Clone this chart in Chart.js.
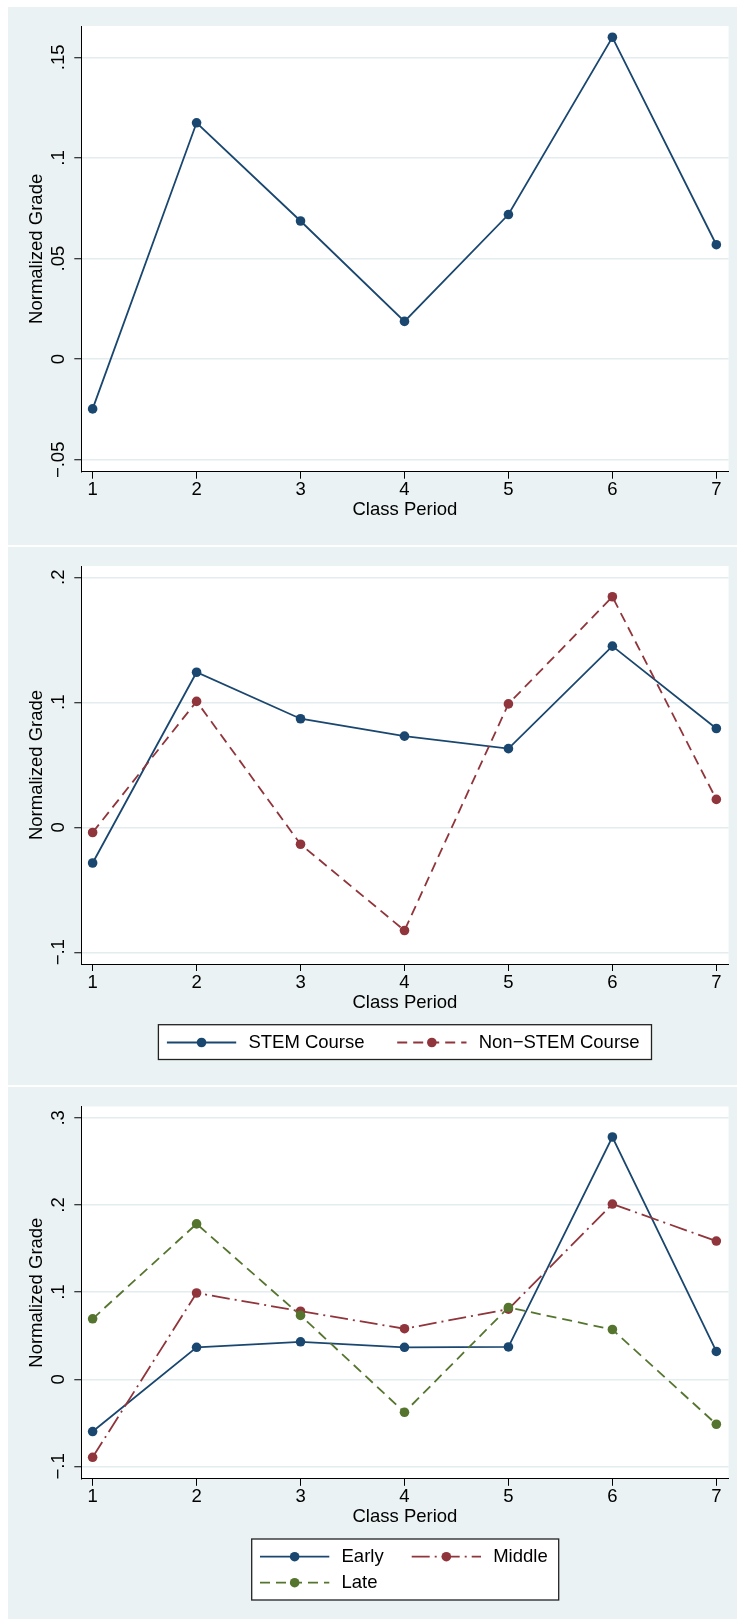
<!DOCTYPE html>
<html>
<head>
<meta charset="utf-8">
<title>Normalized Grade by Class Period</title>
<script src="https://cdn.jsdelivr.net/npm/chart.js@4.4.1/dist/chart.umd.min.js"></script>
<style>
  body { margin: 0; background: #fff; width: 737px; height: 1619px; position: relative; }
  .panel { position: absolute; left: 8px; width: 729px; background: #EAF2F3; }
  .panel canvas { display: block; }
</style>
</head>
<body>
<div class="panel" style="top:7px;height:538px"><canvas id="chart1" width="729" height="538"></canvas></div>
<div class="panel" style="top:547px;height:538px"><canvas id="chart2" width="729" height="538"></canvas></div>
<div class="panel" style="top:1087px;height:532px"><canvas id="chart3" width="729" height="532"></canvas></div>
<script>
// DATA
var periods = [1, 2, 3, 4, 5, 6, 7];

var allGrade = [-0.0247, 0.1175, 0.0687, 0.0188, 0.0719, 0.1600, 0.0569];

var stemGrade = [-0.0286, 0.1240, 0.0868, 0.0729, 0.0629, 0.1449, 0.0790];
var nonStemGrade = [-0.0042, 0.1007, -0.0136, -0.0826, 0.0987, 0.1844, 0.0223];

var earlyGrade = [-0.0600, 0.0367, 0.0430, 0.0367, 0.0371, 0.2780, 0.0319];
var middleGrade = [-0.0895, 0.0990, 0.0781, 0.0580, 0.0805, 0.2011, 0.1586];
var lateGrade = [0.0694, 0.1783, 0.0733, -0.0379, 0.0824, 0.0571, -0.0516];

var yTicks1 = [-0.05, 0, 0.05, 0.1, 0.15];
var yTicks2 = [-0.1, 0, 0.1, 0.2];
var yTicks3 = [-0.1, 0, 0.1, 0.2, 0.3];

var NAVY = '#1A476F', MAROON = '#90353B', GREEN = '#55752F';
var FAMILY = '"Liberation Sans", Arial, Helvetica, sans-serif';
var FSIZE = 18.5;
var MARKER = 4.8;

Chart.defaults.font.family = FAMILY;
Chart.defaults.font.size = FSIZE;
Chart.defaults.color = '#000';

// stata style labels: .05, -.1 ...
function stataLabel(v) {
    if (v === 0) return '0';
    return (v < 0 ? '\u2212' : '') + String(Math.abs(v)).replace(/^0/, '');
}

function makeSeries(label, vals, color, dash) {
    return {
        label: label,
        data: periods.map(function (p, i) { return {x: p, y: vals[i]}; }),
        borderColor: color,
        backgroundColor: color,
        pointBackgroundColor: color,
        pointBorderWidth: 0,
        pointRadius: MARKER,
        borderWidth: 1.8,
        borderDash: dash,
        tension: 0,
        fill: false
    };
}

// white plot region
var plotBg = {
    id: 'plotBg',
    beforeDraw: function (chart) {
        var a = chart.chartArea, ctx = chart.ctx;
        ctx.save();
        ctx.fillStyle = '#fff';
        ctx.fillRect(a.left, a.top, a.right - a.left, a.bottom - a.top);
        ctx.restore();
    }
};

// legend box drawn like stata: line sample with marker in the middle
function stataLegend(box, items) {
    return {
        id: 'stataLegend',
        afterDraw: function (chart) {
            var ctx = chart.ctx;
            ctx.save();
            ctx.fillStyle = '#fff';
            ctx.fillRect(box[0], box[1], box[2], box[3]);
            ctx.strokeStyle = '#222';
            ctx.lineWidth = 1.3;
            ctx.strokeRect(box[0], box[1], box[2], box[3]);
            items.forEach(function (it, i) {
                var ds = chart.data.datasets[i];
                var sx = it[0], sy = it[1], len = 69.3;
                ctx.strokeStyle = ds.borderColor;
                ctx.lineWidth = ds.borderWidth;
                ctx.setLineDash(ds.borderDash || []);
                ctx.beginPath();
                ctx.moveTo(sx, sy);
                ctx.lineTo(sx + len, sy);
                ctx.stroke();
                ctx.setLineDash([]);
                ctx.fillStyle = ds.borderColor;
                ctx.beginPath();
                ctx.arc(sx + len / 2, sy, MARKER, 0, Math.PI * 2);
                ctx.fill();
                ctx.fillStyle = '#000';
                ctx.font = FSIZE + 'px ' + FAMILY;
                ctx.textAlign = 'left';
                ctx.textBaseline = 'middle';
                ctx.fillText(ds.label, sx + 81.5, sy);
            });
            ctx.restore();
        }
    };
}

function yPad(ticks) {
    var c = document.createElement('canvas').getContext('2d');
    c.font = FSIZE + 'px ' + FAMILY;
    var widest = 0;
    ticks.forEach(function (t) {
        widest = Math.max(widest, c.measureText(stataLabel(t)).width);
    });
    // label centre ~22px left of the axis
    return 22.3 - 7 - widest / 2;
}

function makeChart(id, datasets, yMin, yMax, yTicks, padTop, plotBottom, legend) {
    var canvas = document.getElementById(id);
    var H = canvas.height;
    var plugins = [plotBg];
    if (legend) plugins.push(stataLegend(legend.box, legend.items));
    datasets.forEach(function (d, i) { d.order = datasets.length - i; });

    return new Chart(canvas, {
        type: 'line',
        data: {datasets: datasets},
        plugins: plugins,
        options: {
            responsive: false,
            animation: false,
            devicePixelRatio: 1,
            events: [],
            layout: {padding: {top: padTop, right: 8.4, left: 0, bottom: 0}},
            plugins: {legend: {display: false}, tooltip: {enabled: false}},
            scales: {
                x: {
                    type: 'linear',
                    min: 0.891,
                    max: 7.118,
                    afterBuildTicks: function (s) {
                        s.ticks = periods.map(function (p) { return {value: p}; });
                    },
                    afterFit: function (s) { s.height = H - plotBottom; },
                    ticks: {maxRotation: 0, padding: 0.4, callback: function (v) { return String(v); }},
                    grid: {drawOnChartArea: false, tickLength: 7, tickColor: '#000', tickWidth: 1},
                    border: {display: true, color: '#000', width: 1},
                    title: {
                        display: true,
                        text: 'Class Period',
                        padding: {top: 0, bottom: H - (plotBottom + 38.5) - FSIZE * 0.6}
                    }
                },
                y: {
                    min: yMin,
                    max: yMax,
                    afterBuildTicks: function (s) {
                        s.ticks = yTicks.map(function (t) { return {value: t}; });
                    },
                    afterFit: function (s) { s.width = 73.3; },
                    ticks: {
                        minRotation: 90,
                        maxRotation: 90,
                        crossAlign: 'center',
                        padding: yPad(yTicks),
                        callback: function (v) { return stataLabel(v); }
                    },
                    grid: {color: '#E3ECEE', lineWidth: 1.5, tickLength: 7, tickColor: '#000', tickWidth: 1},
                    border: {display: true, color: '#000', width: 1},
                    title: {
                        display: true,
                        text: 'Normalized Grade',
                        padding: {top: 29.3 - FSIZE * 0.6, bottom: 0}
                    }
                }
            }
        }
    });
}

makeChart('chart1',
    [makeSeries('Normalized Grade', allGrade, NAVY, [])],
    -0.0559, 0.1656, yTicks1, 19, 464.7, null);

makeChart('chart2',
    [makeSeries('STEM Course', stemGrade, NAVY, []),
     makeSeries('Non\u2212STEM Course', nonStemGrade, MAROON, [10, 6])],
    -0.1094, 0.209, yTicks2, 19, 417,
    {box: [150.4, 477.7, 493.1, 34.8], items: [[158.9, 495.5], [389.2, 495.5]]});

makeChart('chart3',
    [makeSeries('Early', earlyGrade, NAVY, []),
     makeSeries('Middle', middleGrade, MAROON, [18, 5, 2, 5]),
     makeSeries('Late', lateGrade, GREEN, [10, 6])],
    -0.1142, 0.313, yTicks3, 19.5, 391.8,
    {box: [243.7, 452, 307, 61], items: [[252, 469.7], [403.7, 469.7], [252, 495.7]]});
</script>
</body>
</html>
